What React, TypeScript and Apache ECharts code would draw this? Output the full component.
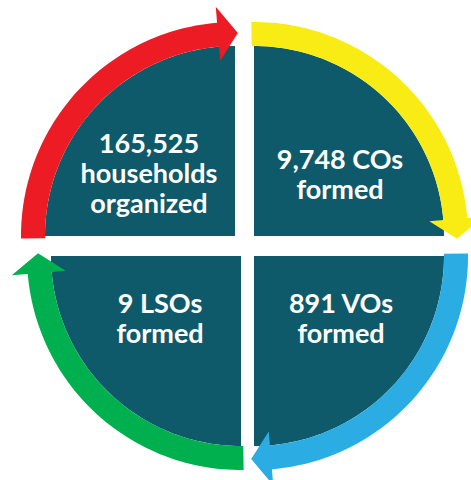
import React, { useEffect, useRef } from "react";
import * as echarts from "echarts";

// ---- data ----
const headlines = ["165,525", "9,748 COs", "891 VOs", "9 LSOs"];
const sublines = [["households", "organized"], ["formed"], ["formed"], ["formed"]];
const stageNames = ["Households", "COs", "VOs", "LSOs"];

// ---- layout / style ----
const TEAL = "#0F5A6A";
const arrowColors = ["#ED1C24", "#F8EC14", "#2BACE3", "#00B04F"];
// corner of each quadrant, start (tail) and end (head) angle in degrees (math orientation)
const quads = [
  { cx: 235, cy: 236, s: 180, e: 90, tx: 149, ty: 151 },
  { cx: 254, cy: 236, s: 90, e: 0, tx: 340, ty: 167 },
  { cx: 254, cy: 256, s: 0, e: -90, tx: 341, ty: 311 },
  { cx: 241, cy: 256, s: 270, e: 180, tx: 160, ty: 311 },
];
const R_TEAL = 190;
const R_IN = 190;
const R_OUT = 214;
const R_HEAD_IN = 176;
const R_HEAD_OUT = 230;
const R_TIP = 203;
const FONT = 27;
const LINE = 30;
const BASELINE_SHIFT = 5;

const deg = Math.PI / 180;
const pt = (cx: number, cy: number, r: number, a: number) => [cx + r * Math.cos(a * deg), cy - r * Math.sin(a * deg)];
const arc = (cx: number, cy: number, r: number, a0: number, a1: number, n = 60) => {
  const out: number[][] = [];
  for (let i = 0; i <= n; i++) out.push(pt(cx, cy, r, a0 + ((a1 - a0) * i) / n));
  return out;
};

export default function App() {
  const ref = useRef<HTMLDivElement>(null);
  useEffect(() => {
    if (!ref.current) return;
    const chart = echarts.init(ref.current, undefined, { renderer: "svg" });
    const elements: any[] = [];
    quads.forEach((q, i) => {
      elements.push({
        type: "polygon",
        name: stageNames[i],
        shape: { points: [[q.cx, q.cy], ...arc(q.cx, q.cy, R_TEAL, q.s, q.e)] },
        style: { fill: TEAL },
      });
    });
    quads.forEach((q, i) => {
      const tail = q.s + 0.7;
      const base = q.e + 4.8;
      const tip = q.e - 0.8;
      const pts = [
        ...arc(q.cx, q.cy, R_OUT, tail, base),
        pt(q.cx, q.cy, R_HEAD_OUT, base),
        pt(q.cx, q.cy, R_TIP, tip),
        pt(q.cx, q.cy, R_HEAD_IN, base),
        ...arc(q.cx, q.cy, R_IN, base, tail),
      ];
      elements.push({ type: "polygon", shape: { points: pts }, style: { fill: arrowColors[i] } });
    });
    quads.forEach((q, i) => {
      const lines = [headlines[i], ...sublines[i]];
      lines.forEach((t, j) => {
        elements.push({
          type: "text",
          x: q.tx,
          y: q.ty + BASELINE_SHIFT + j * LINE,
          style: {
            text: t,
            fill: "#ffffff",
            font: `bold ${FONT}px Lato, "Open Sans", sans-serif`,
            align: "center",
            verticalAlign: "bottom",
          },
        });
      });
    });
    chart.setOption({ animation: false, graphic: { elements } });
    return () => chart.dispose();
  }, []);
  return <div ref={ref} style={{ position: "fixed", left: 0, top: 0, width: 471, height: 480, background: "#fff" }} />;
}
